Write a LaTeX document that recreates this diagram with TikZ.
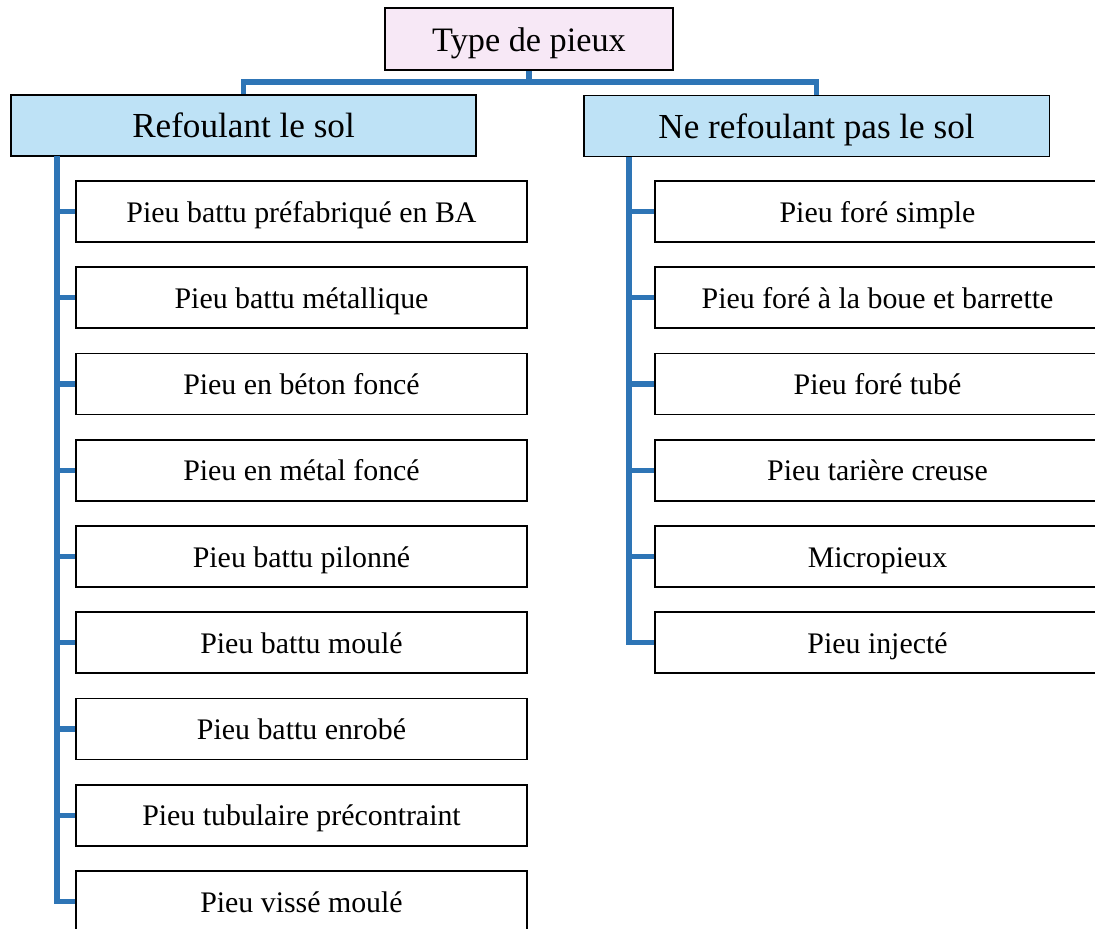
\documentclass[tikz,border=0pt]{standalone}
\usepackage{fontspec}
\setmainfont{Liberation Serif}
\usepackage{tikz}
\usetikzlibrary{positioning}

\definecolor{linkblue}{RGB}{46,117,182}
\definecolor{headblue}{RGB}{190,226,246}
\definecolor{rootpink}{RGB}{247,232,246}

\begin{document}
\begin{tikzpicture}[x=0.02cm, y=-0.02cm]
			\tikzstyle{Box}		= [rectangle, draw=black, line width=1.1pt, fill=white, inner sep=0pt, text height=15pt, text depth=3pt, minimum height=1.22cm, font=\fontsize{17}{20}\selectfont]
			\tikzstyle{Root}	= [Box, fill=rootpink, minimum width=5.76cm, minimum height=1.24cm, text height=18pt, text depth=4pt, font=\fontsize{19.5}{23}\selectfont]
			\tikzstyle{Head}	= [Box, fill=headblue, minimum width=9.32cm, text height=18pt, text depth=4pt, font=\fontsize{20}{24}\selectfont]
			\tikzstyle{LItem}	= [Box, minimum width=9.02cm]
			\tikzstyle{RItem}	= [Box, minimum width=8.9cm]
			\tikzstyle{Link}	= [linkblue, line width=2.9pt]
			
			\clip (0,0) rectangle (1095,929);
			
			\node (root) at (529, 39) [Root] {Type de pieux};
			\node (ref) at (243.5, 125.5) [Head] {Refoulant le sol};
			\node (nref) at (816.5, 126) [Head] {Ne refoulant pas le sol};
			
			\node (r1) at (301.5, 211.5) [LItem] {Pieu battu préfabriqué en BA};
			\node (r2) at (301.5, 297.75) [LItem] {Pieu battu métallique};
			\node (r3) at (301.5, 384) [LItem] {Pieu en béton foncé};
			\node (r4) at (301.5, 470.25) [LItem] {Pieu en métal foncé};
			\node (r5) at (301.5, 556.5) [LItem] {Pieu battu pilonné};
			\node (r6) at (301.5, 642.75) [LItem] {Pieu battu moulé};
			\node (r7) at (301.5, 729) [LItem] {Pieu battu enrobé};
			\node (r8) at (301.5, 815.25) [LItem] {Pieu tubulaire précontraint};
			\node (r9) at (301.5, 901.5) [LItem] {Pieu vissé moulé};
			
			\node (n1) at (877.5, 211.5) [RItem] {Pieu foré simple};
			\node (n2) at (877.5, 297.75) [RItem] {Pieu foré à la boue et barrette};
			\node (n3) at (877.5, 384) [RItem] {Pieu foré tubé};
			\node (n4) at (877.5, 470.25) [RItem] {Pieu tarière creuse};
			\node (n5) at (877.5, 556.5) [RItem] {Micropieux};
			\node (n6) at (877.5, 642.75) [RItem] {Pieu injecté};
			
			\coordinate (bar) at (529, 82);
			\coordinate (rbus) at (57, 156);
			\coordinate (nbus) at (629, 157);
			
			\draw [Link] (root.south) -- (bar);
			\draw [Link] (bar) -| (ref.north);
			\draw [Link] (bar) -| (nref.north);
			
			\draw [Link] (rbus) |- (r9.west);
			\draw [Link] (rbus |- r1.west) -- (r1.west);
			\draw [Link] (rbus |- r2.west) -- (r2.west);
			\draw [Link] (rbus |- r3.west) -- (r3.west);
			\draw [Link] (rbus |- r4.west) -- (r4.west);
			\draw [Link] (rbus |- r5.west) -- (r5.west);
			\draw [Link] (rbus |- r6.west) -- (r6.west);
			\draw [Link] (rbus |- r7.west) -- (r7.west);
			\draw [Link] (rbus |- r8.west) -- (r8.west);
			
			\draw [Link] (nbus) |- (n6.west);
			\draw [Link] (nbus |- n1.west) -- (n1.west);
			\draw [Link] (nbus |- n2.west) -- (n2.west);
			\draw [Link] (nbus |- n3.west) -- (n3.west);
			\draw [Link] (nbus |- n4.west) -- (n4.west);
			\draw [Link] (nbus |- n5.west) -- (n5.west);
		\end{tikzpicture}
\end{document}
